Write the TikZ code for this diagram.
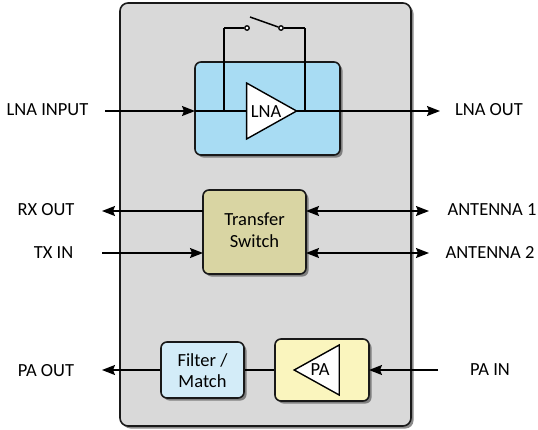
\documentclass[tikz,border=0pt]{standalone}
\usepackage{fontspec}
\setmainfont{Carlito}
\usetikzlibrary{shapes.geometric,shadows,arrows.meta}
\definecolor{panelgray}{HTML}{D9D9D9}
\definecolor{lnablue}{HTML}{A8DCF3}
\definecolor{switchtan}{HTML}{D9D5A3}
\definecolor{filterblue}{HTML}{D3ECF8}
\definecolor{payellow}{HTML}{FAF5BE}
\tikzset{
  block/.style={draw=black!90,line width=1.6pt,rounded corners=6pt,inner sep=0pt,
    drop shadow={shadow xshift=2.5pt,shadow yshift=-2.5pt,fill=black!65,opacity=.7}},
  amp/.style={draw=black,fill=white,line width=1.4pt,isosceles triangle,isosceles triangle stretches,inner sep=0pt},
  blocktext/.style={inner sep=0pt,align=center,font=\fontsize{18.5}{21}\selectfont},
  contact/.style={draw=black,fill=white,circle,line width=1.3pt,minimum size=4.5pt,inner sep=0pt},
  pinlabel/.style={font=\fontsize{18.5}{21}\selectfont,inner sep=0pt},
  wire/.style={line width=1.5pt,black},
  sig/.style={wire,-{Stealth[length=13pt,width=10pt,inset=2pt]}},
  bisig/.style={wire,{Stealth[length=13pt,width=10pt,inset=2pt]}-{Stealth[length=13pt,width=10pt,inset=2pt]}}
}
\begin{document}
\begin{tikzpicture}[x=1pt,y=-1pt]
      \useasboundingbox (0,0) rectangle (538,429);
      % blocks
      \node[block,fill=panelgray,minimum width=291pt,minimum height=423pt,rounded corners=8pt] (panel) at (265.5,214.5) {};
      \node[block,fill=lnablue,minimum width=145pt,minimum height=93pt] (lnabox) at (267.5,108.5) {};
      \node[block,fill=switchtan,minimum width=103pt,minimum height=84pt] (xfer) at (254.5,232) {};
      \node[block,fill=filterblue,minimum width=83pt,minimum height=56pt] (filter) at (202.5,370) {};
      \node[block,fill=payellow,minimum width=94pt,minimum height=62pt] (pabox) at (322,370) {};

      % free ends and points on the block edges
      \coordinate (lnain) at (105,111);
      \coordinate (lnaedge) at (195,111);
      \coordinate (lnaout) at (440,111);
      \coordinate (rxout) at (102,211);
      \coordinate (rxedge) at (203,211);
      \coordinate (txin) at (102,253);
      \coordinate (txedge) at (203,253);
      \coordinate (ant1edge) at (306,211);
      \coordinate (ant1) at (429,211);
      \coordinate (ant2edge) at (306,253);
      \coordinate (ant2) at (429,253);
      \coordinate (paout) at (102,370);
      \coordinate (pain) at (438,370);
      \coordinate (paedge) at (369,370);
      \coordinate (tapl) at (224,111);
      \coordinate (tapr) at (305,111);
      \coordinate (topl) at (224,28);
      \coordinate (topr) at (305,28);
      \coordinate (blade) at (250,17);

      % wires under the amplifiers
      \draw[sig] (lnaedge) -- (lnaout);
      \draw[wire] (filter) -- (pabox);

      \node[amp,minimum height=50pt,minimum width=56pt] (lna) at (263,111) {};
      \node[amp,shape border rotate=180,minimum height=45pt,minimum width=50pt] (pa) at (324.5,370) {};
      \node[blocktext] (lnatext) at (266,112) {LNA};
      \node[blocktext] (patext) at (320,370) {PA};
      \node[blocktext] (xfertext) at (254.5,230) {Transfer\\[1pt]Switch};
      \node[blocktext] (filtertext) at (202.5,371) {Filter /\\Match};

      \node[contact] (c1) at (247,28) {};
      \node[contact] (c2) at (281,28) {};

      \foreach \a/\b in {tapl/topl,topl/c1,tapr/topr,topr/c2}
        \draw[wire] (\a) -- (\b);
      \draw[wire] (blade) -- (c2);

      \foreach \a/\b in {lnain/lnaedge,rxedge/rxout,txin/txedge,filter/paout,pain/paedge}
        \draw[sig] (\a) -- (\b);
      \foreach \a/\b in {ant1edge/ant1,ant2edge/ant2}
        \draw[bisig] (\a) -- (\b);

      % pin names
      \node[pinlabel] (l1) at (47.5,110) {LNA INPUT};
      \node[pinlabel] (l2) at (489,110) {LNA OUT};
      \node[pinlabel] (l3) at (46,210) {RX OUT};
      \node[pinlabel] (l4) at (53.5,253) {TX IN};
      \node[pinlabel] (l5) at (492,210) {ANTENNA 1};
      \node[pinlabel] (l6) at (490,252) {ANTENNA 2};
      \node[pinlabel] (l7) at (46,371) {PA OUT};
      \node[pinlabel] (l8) at (490,370) {PA IN};
    \end{tikzpicture}
\end{document}
